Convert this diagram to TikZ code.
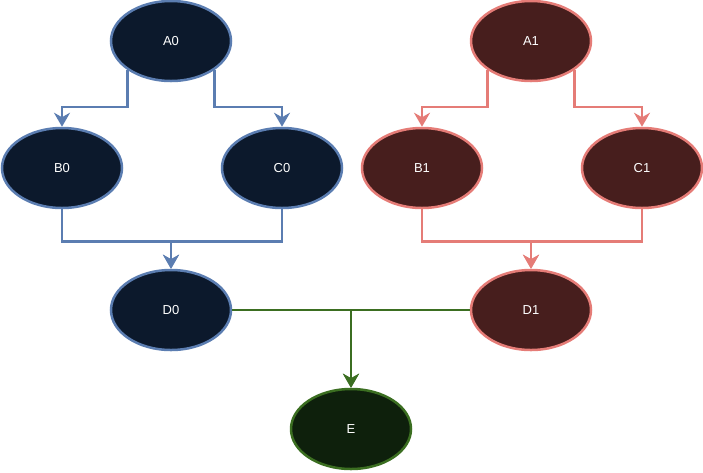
\documentclass[tikz,border=0pt]{standalone}
\usepackage{fontspec}
\setmainfont{Liberation Sans}
\usetikzlibrary{arrows.meta,shapes.geometric}
\definecolor{bstroke}{HTML}{5B7DB1}
\definecolor{bfill}{HTML}{0C192C}
\definecolor{rstroke}{HTML}{E57C77}
\definecolor{rfill}{HTML}{471E1D}
\definecolor{gstroke}{HTML}{3B6E21}
\definecolor{gfill}{HTML}{0E200C}
\tikzset{
  ell/.style={ellipse, minimum width=120pt, minimum height=80pt, inner sep=0pt,
    line width=2.5pt, text=white, font=\fontsize{13}{15}\selectfont},
  bnode/.style={ell, draw=bstroke, fill=bfill},
  rnode/.style={ell, draw=rstroke, fill=rfill},
  gnode/.style={ell, draw=gstroke, fill=gfill},
  arr/.style={line width=2.5pt, -{Stealth[length=14pt,width=16pt,inset=4.5pt]}},
  barr/.style={arr, draw=bstroke, bstroke},
  rarr/.style={arr, draw=rstroke, rstroke},
  garr/.style={arr, draw=gstroke, gstroke},
}
\begin{document}
\begin{tikzpicture}[x=1pt,y=-1pt]
\useasboundingbox (0,0) rectangle (703,472);
\node[bnode] (A0) at (171,41) {A0};
\node[bnode] (B0) at (62,168) {B0};
\node[bnode] (C0) at (282,168) {C0};
\node[bnode] (D0) at (171,310) {D0};
\node[rnode] (A1) at (531,41) {A1};
\node[rnode] (B1) at (422,168) {B1};
\node[rnode] (C1) at (642,168) {C1};
\node[rnode] (D1) at (531,310) {D1};
\node[gnode] (E) at (351,429) {E};
\draw[barr] (A0.south west) -- ++(0,37) -| (B0.north);
\draw[barr] (A0.south east) -- ++(0,37) -| (C0.north);
\draw[barr] (B0.south) -- ++(0,32) -| (D0.north);
\draw[barr] (C0.south) -- ++(0,32) -| (D0.north);
\draw[rarr] (A1.south west) -- ++(0,37) -| (B1.north);
\draw[rarr] (A1.south east) -- ++(0,37) -| (C1.north);
\draw[rarr] (B1.south) -- ++(0,32) -| (D1.north);
\draw[rarr] (C1.south) -- ++(0,32) -| (D1.north);
\draw[garr] (D0.east) -| (E.north);
\draw[garr] (D1.west) -| (E.north);
\end{tikzpicture}
\end{document}
